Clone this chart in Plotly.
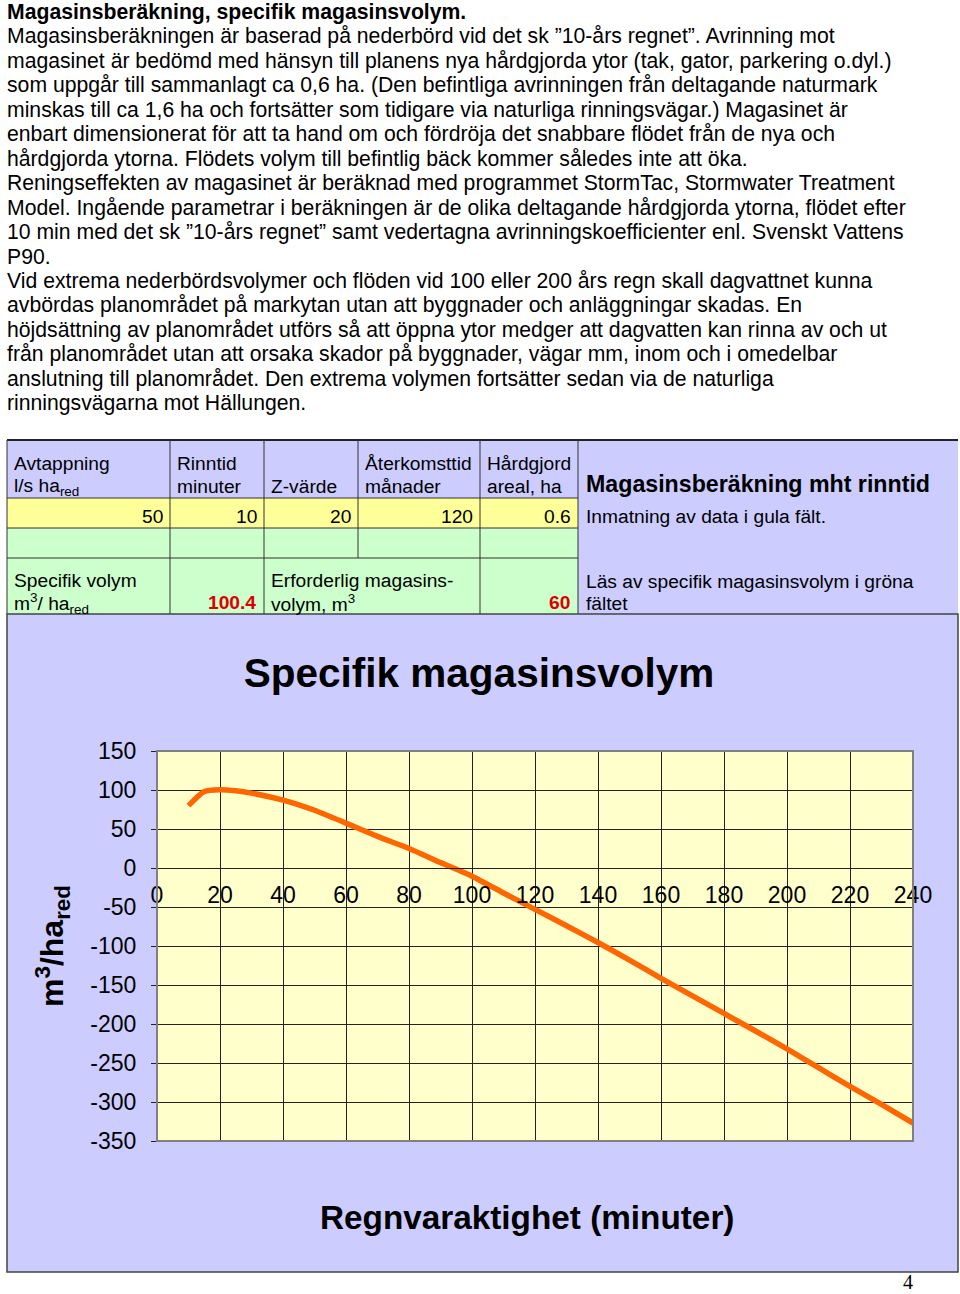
import plotly.graph_objects as go

W, H = 960, 1294


def X(px):
    return px / W


def Y(py):
    return 1 - py / H


# ---------------- data ----------------
duration_min = [10, 15, 20, 25, 30, 40, 50, 60, 70, 80, 90, 100, 110, 120,
                130, 140, 150, 160, 170, 180, 190, 200, 210, 220, 230, 240]
spec_volume = [80, 98, 100.4, 99, 96, 87, 74, 57.5, 40.5, 25, 7, -10.5, -32, -53,
               -74, -95.5, -118, -141.5, -164, -186.5, -209, -232, -256, -280, -303, -327]

x_range = [0, 240]
x_tick_vals = [0, 20, 40, 60, 80, 100, 120, 140, 160, 180, 200, 220, 240]
y_range = [-350, 150]
y_tick_vals = [-350, -300, -250, -200, -150, -100, -50, 0, 50, 100, 150]
y_tick_text = ["-350", "-300", "-250", "-200", "-150", "-100", "-50", "0", "50", "100", "150"]

heading = "Magasinsberäkning, specifik magasinsvolym."
body_lines = [
    "Magasinsberäkningen är baserad på nederbörd vid det sk ”10-års regnet”. Avrinning mot",
    "magasinet är bedömd med hänsyn till planens nya hårdgjorda ytor (tak, gator, parkering o.dyl.)",
    "som uppgår till sammanlagt ca 0,6 ha. (Den befintliga avrinningen från deltagande naturmark",
    "minskas till ca 1,6 ha och fortsätter som tidigare via naturliga rinningsvägar.) Magasinet är",
    "enbart dimensionerat för att ta hand om och fördröja det snabbare flödet från de nya och",
    "hårdgjorda ytorna. Flödets volym till befintlig bäck kommer således inte att öka.",
    "Reningseffekten av magasinet är beräknad med programmet StormTac, Stormwater Treatment",
    "Model. Ingående parametrar i beräkningen är de olika deltagande hårdgjorda ytorna, flödet efter",
    "10 min med det sk ”10-års regnet” samt vedertagna avrinningskoefficienter enl. Svenskt Vattens",
    "P90.",
    "Vid extrema nederbördsvolymer och flöden vid 100 eller 200 års regn skall dagvattnet kunna",
    "avbördas planområdet på markytan utan att byggnader och anläggningar skadas. En",
    "höjdsättning av planområdet utförs så att öppna ytor medger att dagvatten kan rinna av och ut",
    "från planområdet utan att orsaka skador på byggnader, vägar mm, inom och i omedelbar",
    "anslutning till planområdet. Den extrema volymen fortsätter sedan via de naturliga",
    "rinningsvägarna mot Hällungen.",
]

header_top = ["Avtappning", "Rinntid", "", "Återkomsttid", "Hårdgjord"]
header_bottom = ["l/s ha<sub>red</sub>", "minuter", "Z-värde", "månader", "areal, ha"]
input_values = ["50", "10", "20", "120", "0.6"]
panel_title = "Magasinsberäkning mht rinntid"
panel_note1 = "Inmatning av data i gula fält."
panel_note2 = ["Läs av specifik magasinsvolym i gröna", "fältet"]
spec_label = ["Specifik volym", "m<sup>3</sup>/ ha<sub>red</sub>"]
spec_value = "100.4"
vol_label = ["Erforderlig magasins-", "volym, m<sup>3</sup>"]
vol_value = "60"

chart_title = "Specifik magasinsvolym"
x_title = "Regnvaraktighet (minuter)"
y_title = "m<sup>3</sup>/ha<sub>red</sub>"
page_number = "4"

# ---------------- styling ----------------
FONT = "Liberation Sans, Arial, sans-serif"
LAV = "#CCCCFF"
YEL = "#FFFF99"
GRN = "#CCFFCC"
PLOTBG = "#FFFFCC"
LINE_C = "#FF6600"
BORDER = "#333333"

col_x = [7, 170, 264, 358, 480, 578]
col_right = [170, 264, 358, 480, 578]
row_y = [440, 498, 528, 558, 614]

shapes = []
annotations = []


def rect(x0, y0, x1, y1, fill, line_color=None, line_w=0):
    shapes.append(dict(type="rect", xref="paper", yref="paper",
                       x0=X(x0), x1=X(x1), y0=Y(y1), y1=Y(y0),
                       fillcolor=fill, line=dict(color=line_color or fill, width=line_w),
                       layer="below"))


def hline(x0, x1, y, color=BORDER, w=1):
    shapes.append(dict(type="line", xref="paper", yref="paper",
                       x0=X(x0), x1=X(x1), y0=Y(y), y1=Y(y),
                       line=dict(color=color, width=w), layer="below"))


def vline(x, y0, y1, color=BORDER, w=1):
    shapes.append(dict(type="line", xref="paper", yref="paper",
                       x0=X(x), x1=X(x), y0=Y(y0), y1=Y(y1),
                       line=dict(color=color, width=w), layer="below"))


def text(x, y, s, size=19.2, bold=False, color="black", anchor="left", family=FONT):
    annotations.append(dict(xref="paper", yref="paper", x=X(x), y=Y(y),
                            text=f"<b>{s}</b>" if bold else s, showarrow=False,
                            xanchor=anchor, yanchor="middle", borderpad=0,
                            font=dict(family=family, size=size, color=color)))


# ---------- body text ----------
line_y0 = 12
line_step = 24.44
text(6, line_y0, heading, size=21.2, bold=True)
for i, ln in enumerate(body_lines):
    text(6, line_y0 + (i + 1) * line_step, ln, size=21.2)

# ---------- table ----------
rect(7, 440, 578, 498, LAV)
rect(578, 440, 958, 614, LAV)
rect(7, 498, 578, 528, YEL)
rect(7, 528, 578, 614, GRN)
hline(7, 958, 440, color="#222222", w=2)
for yy in row_y[1:4]:
    hline(7, 578, yy)
vline(7, 440, 614)
vline(170, 440, 614)
vline(264, 440, 614)
vline(358, 440, 558)
vline(480, 440, 614)
vline(578, 440, 614)

for i in range(5):
    left = col_x[i] + 6
    if header_top[i]:
        text(left, 464, header_top[i])
    text(left, 487, header_bottom[i])
    text(col_right[i] - 6, 516, input_values[i], anchor="right")

text(585, 484, panel_title, size=23.2, bold=True)
text(585, 516, panel_note1)
text(585, 581, panel_note2[0])
text(585, 603, panel_note2[1])
text(13, 580, spec_label[0])
text(13, 603, spec_label[1])
text(257, 602, spec_value, bold=True, color="#DD0000", anchor="right")
text(270, 580, vol_label[0])
text(270, 603, vol_label[1])
text(571, 602, vol_value, bold=True, color="#DD0000", anchor="right")

# ---------- chart ----------
rect(7, 614, 958, 1272, LAV, line_color="#444444", line_w=1.5)

plot_l, plot_r, plot_t, plot_b = 157, 913, 751, 1141
xdom = [X(plot_l), X(plot_r)]
ydom = [Y(plot_b), Y(plot_t)]
zero_pos = ydom[0] + (0 - y_range[0]) / (y_range[1] - y_range[0]) * (ydom[1] - ydom[0])

shapes.append(dict(type="rect", xref="x domain", yref="y domain", x0=0, x1=1, y0=0, y1=1,
                   fillcolor=PLOTBG, line=dict(width=0), layer="below"))
shapes.append(dict(type="rect", xref="x domain", yref="y domain", x0=0, x1=1, y0=0, y1=1,
                   fillcolor="rgba(0,0,0,0)", line=dict(color="#808080", width=2), layer="above"))

fig = go.Figure()
fig.add_trace(go.Scatter(x=duration_min, y=spec_volume, mode="lines",
                         line=dict(color=LINE_C, width=5.5, shape="spline", smoothing=0.6),
                         hoverinfo="skip", showlegend=False))

fig.update_layout(
    width=W, height=H, autosize=False,
    margin=dict(l=0, r=0, t=0, b=0, pad=0, autoexpand=False),
    paper_bgcolor="white", plot_bgcolor=PLOTBG,
    shapes=shapes, annotations=annotations,
    title=dict(text=f"<b>{chart_title}</b>", x=X(479), y=Y(673), xref="paper", yref="paper",
               xanchor="center", yanchor="middle", automargin=False,
               font=dict(family=FONT, size=40.5, color="black")),
    xaxis=dict(domain=xdom, range=x_range, tickmode="array", tickvals=x_tick_vals,
               anchor="free", position=zero_pos, automargin=False,
               showgrid=True, gridcolor="#222222", gridwidth=1,
               zeroline=False, showline=True, linecolor="#222222", linewidth=1,
               ticks="", ticklabelstandoff=6,
               tickfont=dict(family=FONT, size=23, color="black"),
               fixedrange=True),
    yaxis=dict(domain=ydom, range=y_range, tickmode="array", tickvals=y_tick_vals,
               ticktext=y_tick_text, anchor="x", automargin=False,
               showgrid=True, gridcolor="#222222", gridwidth=1,
               zeroline=False, showline=True, linecolor="#222222", linewidth=1,
               ticks="outside", ticklen=5, tickcolor="#222222",
               ticklabelstandoff=10,
               tickfont=dict(family=FONT, size=23, color="black"),
               fixedrange=True),
)

fig.add_annotation(xref="paper", yref="paper", x=X(527), y=Y(1217), showarrow=False,
                   text=f"<b>{x_title}</b>", xanchor="center", yanchor="middle",
                   font=dict(family=FONT, size=33.3, color="black"))
fig.add_annotation(xref="paper", yref="paper", x=X(52), y=Y(946), showarrow=False,
                   text=f"<b>{y_title}</b>", textangle=-90, xanchor="center", yanchor="middle",
                   font=dict(family=FONT, size=32, color="black"))
fig.add_annotation(xref="paper", yref="paper", x=X(908), y=Y(1282), showarrow=False,
                   text=page_number, xanchor="center", yanchor="middle",
                   font=dict(family="Liberation Serif, Times New Roman, serif", size=20, color="black"))

post = (
    "document.body.style.margin='0';document.body.style.overflow='hidden';"
)
fig.write_html("out.html", config={"displayModeBar": False}, post_script=post)
